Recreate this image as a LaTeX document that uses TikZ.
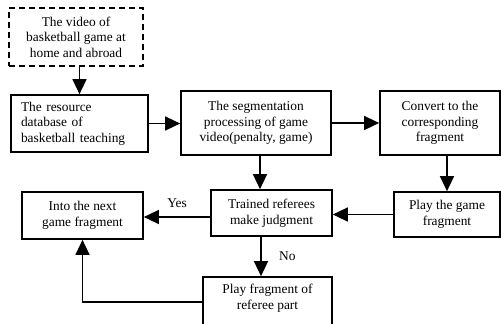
\documentclass[tikz,border=0pt]{standalone}
\usepackage{fontspec}
\setmainfont{Liberation Serif}
\usetikzlibrary{arrows.meta}
\begin{document}
\begin{tikzpicture}[x=1pt, y=-1pt,
    box/.style={draw, line width=1.7pt, inner sep=0pt, align=center,
      font=\fontsize{13.4}{15.5}\selectfont},
    flow/.style={line width=1.5pt, -{Triangle[length=15pt, width=14pt]}}]
    \useasboundingbox (0,0) rectangle (501,324);
    \begin{scope}[every node/.style={box}]
      \node [dash pattern=on 6pt off 4pt, minimum width=134,
      minimum height=58] (video) at (76,37) {The video of\\ basketball
        game at\\ home and abroad};
      \node [minimum width=137, minimum height=57, text width=117,
      align=left] (res) at (79.5,123.5) {The resource\\ database of\\
        basketball teaching};
      \node [minimum width=150, minimum height=64] (seg) at (256,123)
      {The segmentation\\ processing of game\\ video(penalty, game)};
      \node [minimum width=120, minimum height=64] (conv) at (440,123)
      {Convert to the\\ corresponding\\ fragment};
      \node [minimum width=121, minimum height=46] (judge) at
      (271.5,213) {Trained referees\\ make judgment};
      \node [minimum width=106, minimum height=45] (play) at
      (447,214.5) {Play the game\\ fragment};
      \node [minimum width=121, minimum height=47] (next) at
      (82.5,215.5) {Into the next\\ game fragment};
      \node [minimum width=129, minimum height=60] (ref) at (267.5,307)
      {Play fragment of\\ referee part\\ \strut};
    \end{scope}
    \begin{scope}[flow, font=\fontsize{13.4}{15.5}\selectfont]
      \draw (res.north |- video.south) to (res.north);
      \draw (res.east) to (res.east -| seg.west);
      \draw (seg.east) to (seg.east -| conv.west);
      \draw ([xshift=4]seg.south) to ([xshift=4]seg.south |-
      judge.north);
      \draw (conv.south -| play.north) to (play.north);
      \draw (play.west) to (play.west -| judge.east);
      \draw ([yshift=-4]judge.west) to node [above=5pt] {Yes}
      ([yshift=-4]judge.west -| next.east);
      \draw ([xshift=-10.5]judge.south) to node [right=14pt] {No}
      ([xshift=-10.5]judge.south |- ref.north);
      \draw ([yshift=5]ref.west) -| (next.south);
    \end{scope}
  \end{tikzpicture}
\end{document}
